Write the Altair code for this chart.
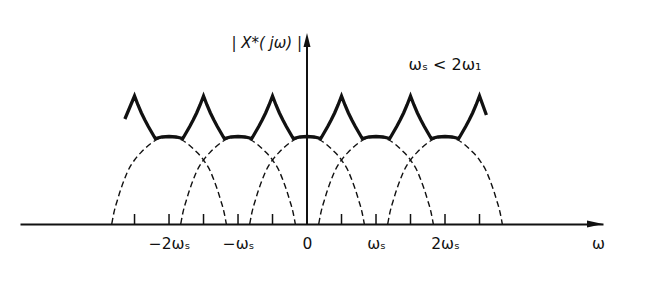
import altair as alt
import pandas as pd

# ---- data (ω in units of ωs, heights in figure units) ----
CENTERS = [-2, -1, 0, 1, 2]                      # spectral copies at k·ωs (dashed)
ARC_OFFSETS = [0.0, 0.1, 0.2, 0.3, 0.4, 0.5, 0.6, 0.65, 0.7, 0.75, 0.8, 0.83]
ARC_HEIGHTS = [87.5, 86.5, 83.5, 78.5, 72.0, 64.0, 52.5, 44.0, 34.5, 23.5, 11.0, 0.0]

SOLID_OFFSETS = [-0.5, -0.45, -0.4, -0.35, -0.3, -0.25, -0.2, -0.1, 0.0,
                 0.1, 0.2, 0.25, 0.3, 0.35, 0.4, 0.45, 0.5]
SOLID_HEIGHTS = [128, 119, 111, 104, 97.5, 91.5, 85.5, 87, 87.5,
                 87, 85.5, 91.5, 97.5, 104, 111, 119, 128]
SOLID_END_W = [-2.64, 2.6]
SOLID_END_H = [105, 109]

TICKS = [-2.5, -2, -1.5, -1, -0.5, 0.5, 1, 1.5, 2, 2.5]
LABEL_VALUES = [-2, -1, 0, 1, 2]
LABEL_TEXT = ["−2ωₛ", "−ωₛ", "0", "ωₛ", "2ωₛ"]
Y_LABEL = "| X*( jω) |"
NOTE = "ωₛ < 2ω₁"
X_TITLE = "ω"

# ---- tables ----
arc_rows = []
for c in CENTERS:
    for s in (-1, 1):
        for o, h in zip(ARC_OFFSETS, ARC_HEIGHTS):
            if s == -1 and o == 0:
                continue
            arc_rows.append({"w": round(c + s * o, 4), "h": h, "arc": c})
arc_df = pd.DataFrame(arc_rows)

solid_rows = {}
for c in CENTERS:
    for o, h in zip(SOLID_OFFSETS, SOLID_HEIGHTS):
        solid_rows[round(c + o, 4)] = h
for w, h in zip(SOLID_END_W, SOLID_END_H):
    solid_rows[w] = h
solid_df = pd.DataFrame(sorted(solid_rows.items()), columns=["w", "h"])

tick_df = pd.DataFrame({"w": TICKS})
origin_df = pd.DataFrame({"w": [0]})
ylab_df = pd.DataFrame({"t": [Y_LABEL]})
note_df = pd.DataFrame({"t": [NOTE]})

# ---- scales / axes ----
W, H = 583, 191
FONT = "DejaVu Sans"
INK = "#111111"

label_expr = " : ".join(
    f"datum.value == {v} ? '{t}'" for v, t in zip(LABEL_VALUES, LABEL_TEXT)
) + " : ''"

xscale = alt.Scale(domain=[-4.16, 4.29], zero=False, nice=False)
yscale = alt.Scale(domain=[0, H], zero=False, nice=False)
xaxis = alt.Axis(
    values=LABEL_VALUES, labelExpr=label_expr, ticks=False, tickSize=0, grid=False,
    domainColor=INK, domainWidth=2, labelFont=FONT, labelFontSize=15.5,
    labelColor=INK, labelPadding=19, labelBaseline="middle", labelFlush=False,
    labelOverlap=False, labelBound=False,
    title=X_TITLE, titleX=578, titleY=19, titleAlign="center",
    titleBaseline="middle", titleFont=FONT, titleFontSize=15.5,
    titleFontWeight="normal", titleColor=INK,
)
X = alt.X("w:Q", scale=xscale, axis=xaxis)
Y = alt.Y("h:Q", scale=yscale, axis=None)

arcs = alt.Chart(arc_df).mark_line(
    color=INK, strokeWidth=1.4, strokeDash=[6, 3.5], interpolate="monotone"
).encode(x=X, y=Y, detail="arc:N")

solid = alt.Chart(solid_df).mark_line(
    color=INK, strokeWidth=3.3, strokeJoin="miter", strokeCap="butt"
).encode(x=X, y=Y)

ticks = alt.Chart(tick_df).mark_rule(color=INK, strokeWidth=1.5).encode(
    x=X, y=alt.value(H), y2=alt.value(H - 10)
)

vaxis = alt.Chart(origin_df).mark_rule(color=INK, strokeWidth=2).encode(
    x=X, y=alt.value(8), y2=alt.value(H)
)
varrow = alt.Chart(origin_df).mark_point(
    shape="M0,0 L-0.5,2 L0.5,2 Z", size=196, filled=True, color=INK, opacity=1
).encode(x=X, y=alt.value(0))
harrow = alt.Chart(origin_df).mark_point(
    shape="M0,0 L-2,-0.45 L-2,0.45 Z", size=256, filled=True, color=INK, opacity=1
).encode(x=alt.value(W), y=alt.value(H))

ylab = alt.Chart(ylab_df).mark_text(
    align="right", baseline="middle", font=FONT, fontSize=15, fontStyle="italic",
    fill=INK, color=INK
).encode(x=alt.value(282), y=alt.value(10), text="t:N")

note = alt.Chart(note_df).mark_text(
    align="center", baseline="middle", font=FONT, fontSize=16, fill=INK, color=INK
).encode(x=alt.value(425), y=alt.value(32), text="t:N")

chart = alt.layer(arcs, solid, ticks, vaxis, varrow, harrow, ylab, note).properties(
    width=W, height=H, autosize="none",
    padding={"left": 20, "top": 33, "right": 59, "bottom": 58},
    background="white",
).configure_view(stroke=None)

chart.save("out.html", embed_options={"renderer": "svg", "actions": False})
